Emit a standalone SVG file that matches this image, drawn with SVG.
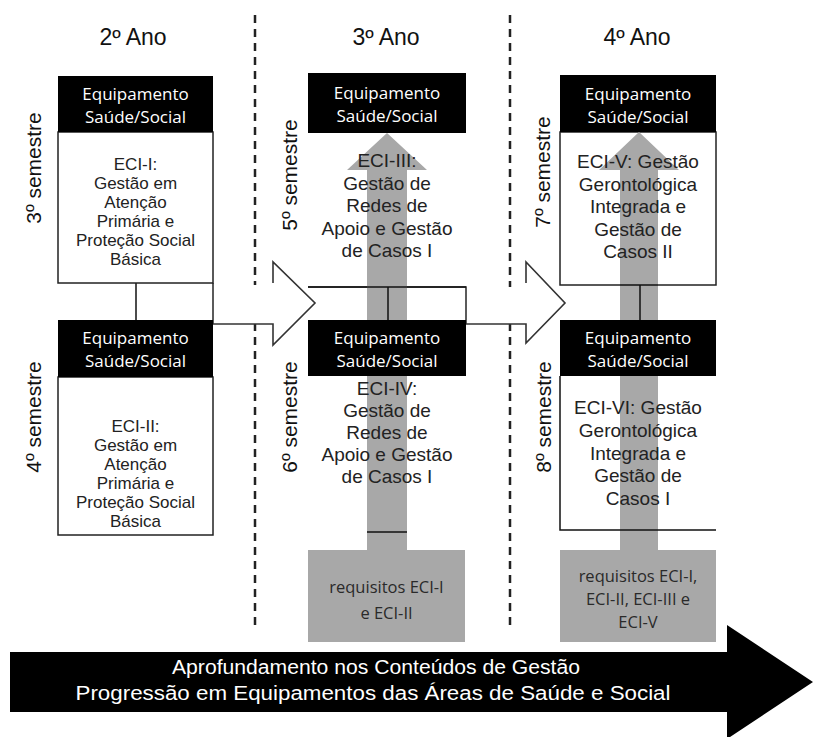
<svg xmlns="http://www.w3.org/2000/svg" width="814" height="737" viewBox="0 0 814 737">
  <style>
    .year { font-family: "Liberation Sans", Arial, sans-serif; font-size: 23px; fill: #111; text-anchor: middle; }
    .sem { font-family: "Liberation Sans", Arial, sans-serif; font-size: 21px; fill: #111; text-anchor: middle; }
    .hdr { fill: #000; }
    .hdr-t { font-family: "Open Sans", "Liberation Sans", sans-serif; font-size: 17px; fill: #fff; text-anchor: middle; }
    .body { fill: #fff; stroke: #222; stroke-width: 1.5; }
    .body-t { font-family: "Liberation Sans", Arial, sans-serif; font-size: 19px; fill: #222; text-anchor: middle; }
    .body-s { font-family: "Liberation Sans", Arial, sans-serif; font-size: 17px; fill: #222; text-anchor: middle; }
    .req { fill: #a8a8a8; }
    .req-t { font-family: "Open Sans", "Liberation Sans", sans-serif; font-size: 16.5px; fill: #2a2a2a; text-anchor: middle; }
    .up { fill: #a8a8a8; }
    .ln { fill: none; stroke: #111; stroke-width: 1.5; }
    .dash { fill: none; stroke: #222; stroke-width: 2.5; stroke-dasharray: 8 6; }
    .flow { fill: #fff; stroke: none; }
    .flow-o { fill: none; stroke: #333; stroke-width: 1.6; stroke-linejoin: miter; }
    .band-t { font-family: "Liberation Sans", Arial, sans-serif; font-size: 20px; fill: #fff; text-anchor: middle; }
  </style>

  <rect width="814" height="737" fill="#fff"/>

  <!-- year dividers -->
  <g id="dividers">
    <line class="dash" x1="255" y1="15" x2="255" y2="625"/>
    <line class="dash" x1="510" y1="15" x2="510" y2="625"/>
  </g>

  <!-- year titles -->
  <g id="years">
    <text class="year" x="133" y="45">2º Ano</text>
    <text class="year" x="386" y="45">3º Ano</text>
    <text class="year" x="637" y="45">4º Ano</text>
  </g>

  <!-- semester labels -->
  <g id="semesters">
    <text class="sem" transform="translate(41,168) rotate(-90)">3º semestre</text>
    <text class="sem" transform="translate(41,417) rotate(-90)">4º semestre</text>
    <text class="sem" transform="translate(297,175) rotate(-90)">5º semestre</text>
    <text class="sem" transform="translate(297,417) rotate(-90)">6º semestre</text>
    <text class="sem" transform="translate(550,172) rotate(-90)">7º semestre</text>
    <text class="sem" transform="translate(551,417) rotate(-90)">8º semestre</text>
  </g>

  <!-- connectors: hollow progression arrows and semester links -->
  <g id="connectors">
    <polygon class="flow" points="214,285 273,285 273,262 315,303 273,345 273,324 214,324"/>
    <polyline class="flow-o" points="213,283 213,324 273,324 273,345 315,303 273,262 273,283"/>
    <polygon class="flow" points="466,287 526,287 526,262 565,303 526,343 526,324 466,324"/>
    <polyline class="flow-o" points="308,287 466,287 466,324 526,324 526,343 565,303 526,262 526,283"/>
    <line class="ln" x1="136" y1="283" x2="136" y2="320"/>
  </g>

  <!-- 2º ano -->
  <g id="eci-1">
    <rect class="body" x="58" y="132" width="155" height="151"/>
    <rect class="hdr" x="58" y="76" width="155" height="56"/>
    <text class="hdr-t" x="135.5" y="100">Equipamento</text>
    <text class="hdr-t" x="135.5" y="123">Saúde/Social</text>
    <text class="body-s" x="135.5" y="170">ECI-I:</text>
    <text class="body-s" x="135.5" y="189">Gestão em</text>
    <text class="body-s" x="135.5" y="208">Atenção</text>
    <text class="body-s" x="135.5" y="227">Primária e</text>
    <text class="body-s" x="135.5" y="246">Proteção Social</text>
    <text class="body-s" x="135.5" y="265">Básica</text>
  </g>

  <g id="eci-2">
    <rect class="body" x="58" y="377" width="155" height="158"/>
    <rect class="hdr" x="58" y="320" width="155" height="57"/>
    <text class="hdr-t" x="135.5" y="344">Equipamento</text>
    <text class="hdr-t" x="135.5" y="367">Saúde/Social</text>
    <text class="body-s" x="135.5" y="432">ECI-II:</text>
    <text class="body-s" x="135.5" y="451">Gestão em</text>
    <text class="body-s" x="135.5" y="470">Atenção</text>
    <text class="body-s" x="135.5" y="489">Primária e</text>
    <text class="body-s" x="135.5" y="508">Proteção Social</text>
    <text class="body-s" x="135.5" y="527">Básica</text>
  </g>

  <!-- 3º ano -->
  <g id="req-3">
    <path class="up" d="M367,550 V170 H347 L387,133 L427,170 H407 V550 Z"/>
    <rect class="req" x="308" y="550" width="157" height="92"/>
    <text class="req-t" x="386.5" y="593">requisitos ECI-I</text>
    <text class="req-t" x="386.5" y="619">e ECI-II</text>
    <line class="ln" x1="308" y1="287" x2="466" y2="287"/>
    <line class="ln" x1="367" y1="532" x2="407" y2="532" stroke="#555"/>
    <line class="ln" x1="388" y1="287" x2="388" y2="320"/>
  </g>

  <g id="eci-3">
    <rect class="hdr" x="308" y="73" width="158" height="60"/>
    <text class="hdr-t" x="387" y="99">Equipamento</text>
    <text class="hdr-t" x="387" y="122">Saúde/Social</text>
    <text class="body-t" x="387" y="167">ECI-III:</text>
    <text class="body-t" x="387" y="189.5">Gestão de</text>
    <text class="body-t" x="387" y="212">Redes de</text>
    <text class="body-t" x="387" y="234.5">Apoio e Gestão</text>
    <text class="body-t" x="387" y="257">de Casos I</text>
  </g>

  <g id="eci-4">
    <rect class="hdr" x="308" y="320" width="158" height="56"/>
    <text class="hdr-t" x="387" y="344">Equipamento</text>
    <text class="hdr-t" x="387" y="367">Saúde/Social</text>
    <text class="body-t" x="387" y="395">ECI-IV:</text>
    <text class="body-t" x="387" y="417">Gestão de</text>
    <text class="body-t" x="387" y="439">Redes de</text>
    <text class="body-t" x="387" y="461">Apoio e Gestão</text>
    <text class="body-t" x="387" y="483">de Casos I</text>
  </g>

  <!-- 4º ano -->
  <g id="eci-5-box">
    <rect class="body" x="560" y="132" width="156" height="153"/>
  </g>
  <g id="eci-6-box">
    <polyline class="ln" points="560,376 560,530 716,530"/>
  </g>

  <g id="req-4">
    <path class="up" d="M620,550 V170 H599 L639,132 L679,170 H658 V550 Z"/>
    <rect class="req" x="560" y="550" width="156" height="92"/>
    <text class="req-t" x="638" y="582">requisitos ECI-I,</text>
    <text class="req-t" x="638" y="605">ECI-II, ECI-III e</text>
    <text class="req-t" x="638" y="628">ECI-V</text>
    <line class="ln" x1="620" y1="285" x2="658" y2="285"/>
    <line class="ln" x1="620" y1="530" x2="658" y2="530"/>
    <line class="ln" x1="640" y1="285" x2="640" y2="320"/>
  </g>

  <g id="eci-5">
    <rect class="hdr" x="560" y="75" width="156" height="57"/>
    <text class="hdr-t" x="638" y="100">Equipamento</text>
    <text class="hdr-t" x="638" y="123">Saúde/Social</text>
    <text class="body-t" x="638" y="168">ECI-V: Gestão</text>
    <text class="body-t" x="638" y="190.5">Gerontológica</text>
    <text class="body-t" x="638" y="213">Integrada e</text>
    <text class="body-t" x="638" y="235.5">Gestão de</text>
    <text class="body-t" x="638" y="258">Casos II</text>
  </g>

  <g id="eci-6">
    <rect class="hdr" x="560" y="320" width="156" height="56"/>
    <text class="hdr-t" x="638" y="344">Equipamento</text>
    <text class="hdr-t" x="638" y="367">Saúde/Social</text>
    <text class="body-t" x="638" y="414">ECI-VI: Gestão</text>
    <text class="body-t" x="638" y="437">Gerontológica</text>
    <text class="body-t" x="638" y="460">Integrada e</text>
    <text class="body-t" x="638" y="482">Gestão de</text>
    <text class="body-t" x="638" y="505">Casos I</text>
  </g>

  <!-- progression band -->
  <g id="progression">
    <path d="M10,652 H727 V625 L813,682 L727,739 V712 H10 Z" fill="#000"/>
    <text class="band-t" x="376" y="674" textLength="408" lengthAdjust="spacingAndGlyphs">Aprofundamento nos Conteúdos de Gestão</text>
    <text class="band-t" x="373" y="700" textLength="595" lengthAdjust="spacingAndGlyphs">Progressão em Equipamentos das Áreas de Saúde e Social</text>
  </g>
</svg>
